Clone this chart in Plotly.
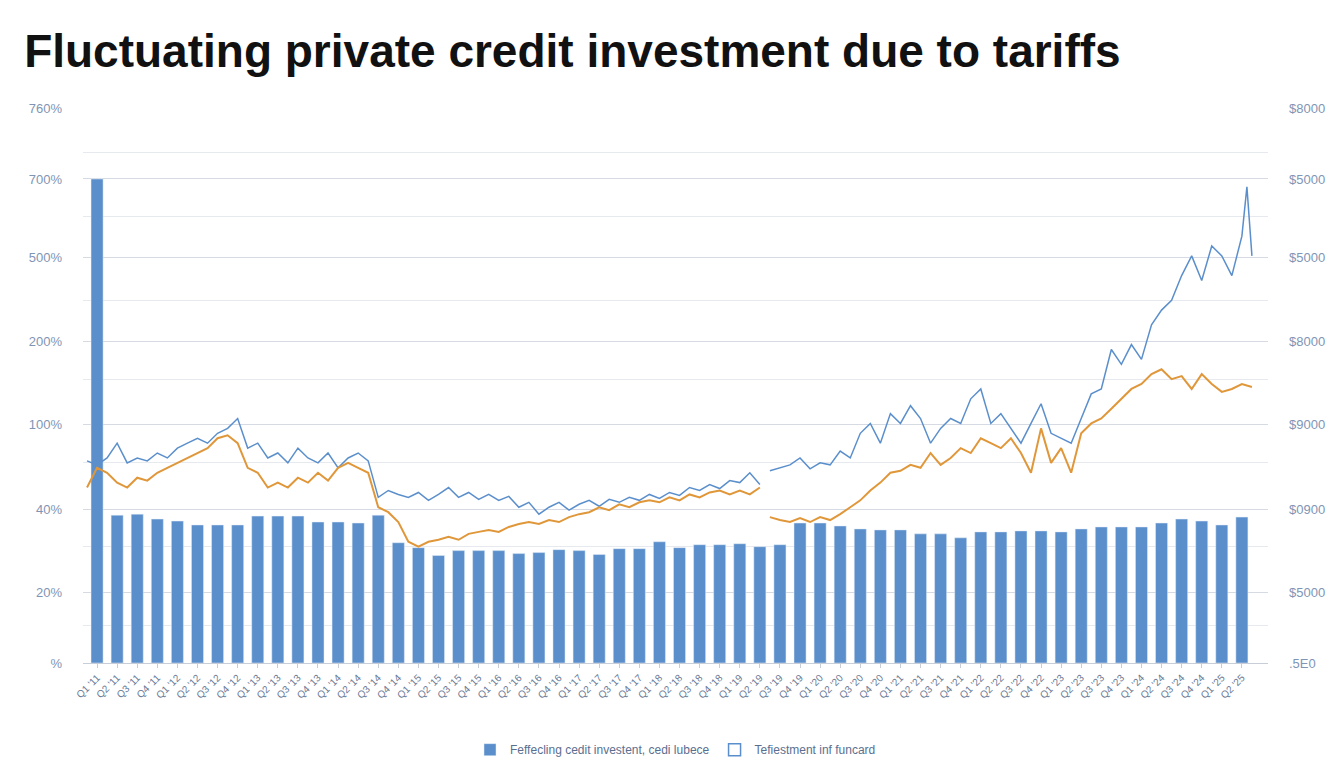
import plotly.graph_objects as go

# heights (axis units = height above baseline)
bar_vals = [491, 150, 151, 146, 144, 140, 140, 140, 149, 149, 149, 143, 143, 142, 150,
            122, 117, 109, 114, 114, 114, 111, 112, 115, 114, 110, 116, 116, 123, 117,
            120, 120, 121, 118, 120, 142, 142, 139, 136, 135, 135, 131, 131, 127, 133,
            133, 134, 134, 133, 136, 138, 138, 138, 142, 146, 144, 140, 148]

blue_a = [205, 201, 208, 223, 203, 208, 205, 213, 208, 218, 223, 228, 223, 233, 238, 248, 218,
          223, 208, 213, 203, 218, 208, 203, 213, 198, 208, 213, 205, 168, 175, 171, 168, 173,
          165, 171, 178, 168, 173, 166, 171, 165, 169, 158, 163, 151, 158, 163, 155, 161, 165,
          159, 166, 163, 168, 165, 171, 167, 173, 170, 178, 175, 181, 177, 185, 183, 193, 181]
blue_b = [195, 198, 201, 208, 197, 203, 201, 215, 208, 233, 243, 223, 253, 243, 261, 248, 223,
          238, 248, 243, 268, 278, 243, 253, 238, 223, 243, 263, 233, 228, 223, 248, 273, 278,
          318, 303, 323, 308, 343, 358, 368, 393, 413, 388, 423, 413, 393, 433, 483, 413]

orange_a = [178, 198, 193, 183, 178, 188, 185, 193, 198, 203, 208, 213, 218, 228, 231, 223, 198,
            193, 178, 183, 178, 188, 183, 193, 185, 198, 203, 198, 193, 158, 153, 143, 123, 118,
            123, 125, 128, 125, 131, 133, 135, 133, 138, 141, 143, 141, 145, 143, 148, 151, 153,
            158, 155, 161, 158, 163, 165, 163, 168, 165, 171, 168, 173, 175, 171, 175, 171, 178]
orange_b = [148, 145, 143, 147, 143, 148, 145, 151, 158, 165, 175, 183, 193, 195, 201, 198, 213,
            201, 208, 218, 213, 228, 223, 218, 228, 213, 193, 238, 203, 218, 193, 233, 243, 248,
            258, 268, 278, 283, 293, 298, 288, 291, 278, 293, 283, 275, 278, 283, 280]

left_ticks = ["%", "20%", "40%", "100%", "200%", "500%", "700%", "760%"]
right_ticks = [".5E0", "$5000", "$0900", "$9000", "$8000", "$5000", "$5000", "$8000"]
tick_pos = [0, 72, 156, 242, 326, 411, 491, 563]
minor_pos = [38, 118, 203, 288, 368, 453, 518]
x_labels = ["Q%d '%02d" % (q, y) for y in range(11, 26) for q in range(1, 5)][:len(bar_vals)]

blue = "#5b8fcc"
orange = "#e0973a"

bar_x = list(range(len(bar_vals)))
xa = [-0.5 + 0.5 * k for k in range(len(blue_a))]
xb = [33.5 + 0.5 * k for k in range(48)] + [57.25, 57.5]
xo = [33.5 + 0.5 * k for k in range(len(orange_b))]

fig = go.Figure()
fig.add_trace(go.Bar(x=bar_x, y=bar_vals, width=0.6, marker_color=blue,
                     name="Feffecling cedit investent, cedi lubece"))
fig.add_trace(go.Bar(x=[None], y=[None], marker=dict(color="white", line=dict(color=blue, width=1.5)),
                     name="Tefiestment inf funcard"))
for xs, ys in [(xa, blue_a), (xb, blue_b)]:
    fig.add_trace(go.Scatter(x=xs, y=ys, mode="lines", line=dict(color=blue, width=1.5),
                             showlegend=False))
for xs, ys in [(xa, orange_a), (xo, orange_b)]:
    fig.add_trace(go.Scatter(x=xs, y=ys, mode="lines", line=dict(color=orange, width=2),
                             showlegend=False, yaxis="y2"))

fig.update_layout(
    width=1344, height=768,
    paper_bgcolor="white", plot_bgcolor="white",
    font=dict(family="Liberation Sans, Arial", color="#7f95b5"),
    title=dict(text="<b>Fluctuating private credit investment due to tariffs</b>",
               x=0.012, y=0.965, font=dict(size=46, color="#111111")),
    margin=dict(l=75, r=84, t=100, b=104),
    bargap=0.4,
    legend=dict(orientation="h", x=0.5, xanchor="center", y=-0.13, yanchor="top",
                font=dict(size=12, color="#5a6f90")),
    xaxis=dict(range=[-0.7, 58.3], tickmode="array", tickvals=bar_x, ticktext=x_labels,
               tickangle=-45, tickfont=dict(size=10, color="#6a7a95"), showgrid=False,
               showline=True, linecolor="#c8ced8", ticks="outside", ticklen=4, tickcolor="#c8ced8"),
    yaxis=dict(range=[0, 563], tickmode="array", tickvals=tick_pos, ticktext=left_ticks,
               gridcolor="#d6dbe3", zeroline=False, tickfont=dict(size=13, color="#7f95b5"),
               ticklabelstandoff=20,
               minor=dict(tickvals=minor_pos, showgrid=True, gridcolor="#e6e9ee")),
    yaxis2=dict(range=[0, 563], overlaying="y", side="right", tickmode="array",
                tickvals=tick_pos, ticktext=right_ticks, showgrid=False, zeroline=False,
                tickfont=dict(size=13, color="#7f95b5"), ticklabelstandoff=20),
)

fig.write_html("out.html")
